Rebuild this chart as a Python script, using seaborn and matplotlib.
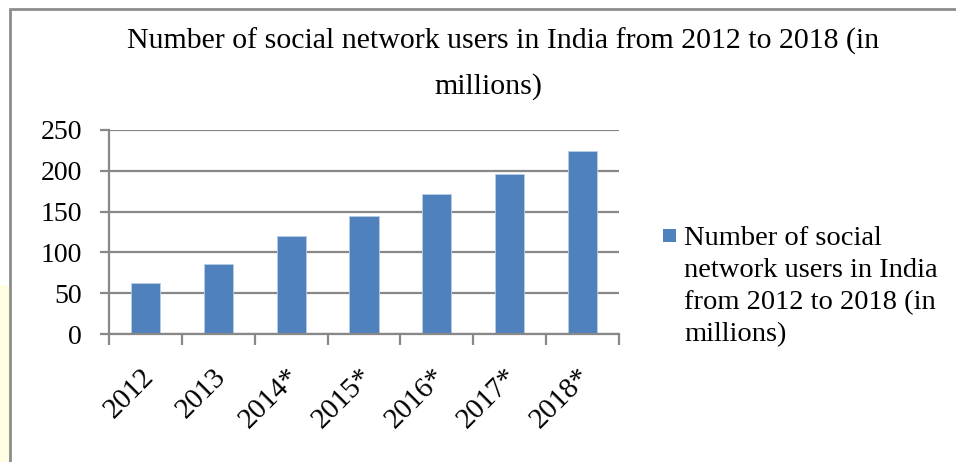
import matplotlib
matplotlib.use("Agg")
import matplotlib.pyplot as plt
import matplotlib.transforms as mtransforms
import seaborn as sns
import pandas as pd
from matplotlib.patches import Rectangle

years = ["2012", "2013", "2014*", "2015*", "2016*", "2017*", "2018*"]
users = [62.7, 86, 120, 145, 172, 196, 224]
title_lines = ["Number of social network users in India from 2012 to 2018 (in", "millions)"]
legend_lines = ["Number of social", "network users in India", "from 2012 to 2018 (in", "millions)"]

sns.set_theme(style="white")
plt.rcParams["font.family"] = ["Liberation Serif", "DejaVu Serif"]
plt.rcParams["text.color"] = "black"
plt.rcParams["xtick.color"] = "black"
plt.rcParams["ytick.color"] = "black"

W, H = 956, 462
fig = plt.figure(figsize=(W / 100, H / 100), dpi=100)
ax = fig.add_axes([109 / W, 1 - 334 / H, (619 - 109) / W, (334 - 130) / H])

df = pd.DataFrame({"year": years, "users": users})
sns.barplot(data=df, x="year", y="users", color="#4F81BD", saturation=1,
            width=0.4, ax=ax, edgecolor="#B9CDE5", linewidth=0.6)

grid_c = "#888888"
ax.set_ylim(0, 250)
ax.set_xlim(-0.5, 6.5)
ax.set_yticks([0, 50, 100, 150, 200, 250])
ax.yaxis.grid(True, color=grid_c, linewidth=1.6)
ax.set_axisbelow(True)
for s in ["top", "right"]:
    ax.spines[s].set_visible(False)
for s in ["left", "bottom"]:
    ax.spines[s].set_color(grid_c)
    ax.spines[s].set_linewidth(1.6)

ax.set_xlabel("")
ax.set_ylabel("")
ax.tick_params(axis="y", which="major", length=6.5, width=1.6, color=grid_c,
               direction="out", labelsize=20, pad=13, left=True,
               labelcolor="black")
ax.tick_params(axis="x", which="major", length=0, labelsize=21, pad=28,
               labelcolor="black")
ax.set_xticks([i - 0.5 for i in range(8)], minor=True)
ax.tick_params(axis="x", which="minor", length=8, width=1.6, color=grid_c,
               direction="out", bottom=True)
shift = mtransforms.ScaledTranslation(4 / 100, 0, fig.dpi_scale_trans)
for lbl in ax.get_xticklabels():
    lbl.set_rotation(45)
    lbl.set_ha("right")
    lbl.set_va("center")
    lbl.set_rotation_mode("anchor")
    lbl.set_transform(lbl.get_transform() + shift)

# title (two lines, as in the original)
fig.text(503 / W, 1 - 49 / H, title_lines[0], ha="center", va="baseline", fontsize=21.5)
fig.text(488 / W, 1 - 94 / H, title_lines[1], ha="center", va="baseline", fontsize=21.5)

# legend
fig.patches.append(Rectangle((663 / W, 1 - 242 / H), 13 / W, 13 / H,
                             transform=fig.transFigure, facecolor="#4F81BD",
                             edgecolor="none"))
for i, line in enumerate(legend_lines):
    fig.text(684 / W, 1 - (245 + 32 * i) / H, line, ha="left", va="baseline",
             fontsize=20.5)

# chart border and yellow strip
fig.patches.append(Rectangle((0, 0), 9 / W, (H - 285) / H, transform=fig.transFigure,
                             facecolor="#FFFDE1", edgecolor="none", zorder=-1))
fig.patches.append(Rectangle((10 / W, -0.05), 1.0, 1 - 9 / H + 0.05,
                             transform=fig.transFigure, facecolor="none",
                             edgecolor="#8C8C8C", linewidth=2))

fig.savefig("out.png", dpi=100)
